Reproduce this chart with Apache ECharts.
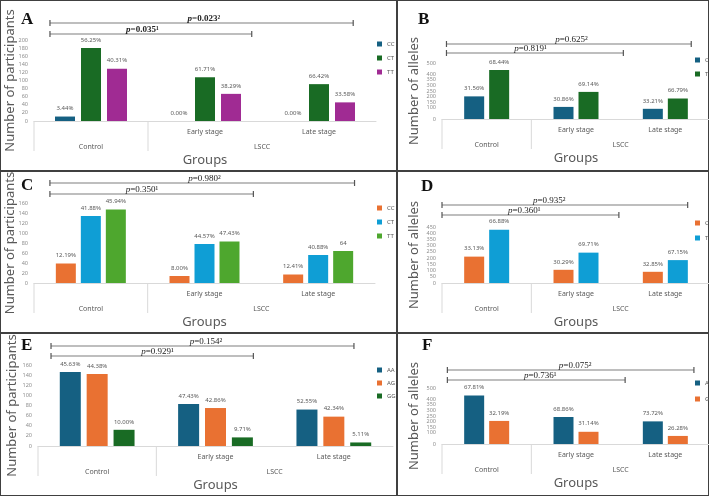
<!DOCTYPE html>
<html>
<head>
<meta charset="utf-8">
<script src="https://cdn.jsdelivr.net/npm/echarts@6/dist/echarts.min.js"></script>
<style>
  html, body { margin: 0; padding: 0; background: #fff; }
  #fig { position: relative; width: 709px; height: 496px; box-sizing: border-box; border: 1px solid #404040; }
  .panel { position: absolute; }
  .rule { position: absolute; background: #404040; }
</style>
</head>
<body>
<div id="fig">
  <div class="panel" id="pA" style="left:0;top:0;width:396px;height:170px"></div>
  <div class="panel" id="pB" style="left:396px;top:0;width:313px;height:170px"></div>
  <div class="panel" id="pC" style="left:0;top:170px;width:396px;height:162px"></div>
  <div class="panel" id="pD" style="left:396px;top:170px;width:313px;height:162px"></div>
  <div class="panel" id="pE" style="left:0;top:332px;width:396px;height:163px"></div>
  <div class="panel" id="pF" style="left:396px;top:332px;width:313px;height:163px"></div>
  <div class="rule" style="left:395px;top:0;width:1.5px;height:496px"></div>
  <div class="rule" style="left:0;top:169px;width:709px;height:1.5px"></div>
  <div class="rule" style="left:0;top:331px;width:709px;height:1.5px"></div>
</div>
<script>
// categories
const groups = ['Control', 'Early stage', 'Late stage'];
const lsccLabel = 'LSCC';

// A - genotypes (participants)
const aCC = [11, 0, 0];
const aCT = [180, 108, 91];
const aTT = [129, 67, 46];
const aCCLbl = ['3.44%', '0.00%', '0.00%'];
const aCTLbl = ['56.25%', '61.71%', '66.42%'];
const aTTLbl = ['40.31%', '38.29%', '33.58%'];
const aP = ['0.035¹', '0.023²'];

// B - alleles
const bC = [202, 108, 91];
const bT = [438, 242, 183];
const bCLbl = ['31.56%', '30.86%', '33.21%'];
const bTLbl = ['68.44%', '69.14%', '66.79%'];
const bP = ['0.819¹', '0.625²'];

// C - genotypes (participants)
const cCC = [39, 14, 17];
const cCT = [134, 78, 56];
const cTT = [147, 83, 64];
const cCCLbl = ['12.19%', '8.00%', '12.41%'];
const cCTLbl = ['41.88%', '44.57%', '40.88%'];
const cTTLbl = ['45.94%', '47.43%', '64'];
const cP = ['0.350¹', '0.980²'];

// D - alleles
const dC = [212, 106, 90];
const dT = [428, 244, 184];
const dCLbl = ['33.13%', '30.29%', '32.85%'];
const dTLbl = ['66.88%', '69.71%', '67.15%'];
const dP = ['0.360¹', '0.935²'];

// E - genotypes (participants)
const eAA = [146, 83, 72];
const eAG = [142, 75, 58];
const eGG = [32, 17, 7];
const eAALbl = ['45.63%', '47.43%', '52.55%'];
const eAGLbl = ['44.38%', '42.86%', '42.34%'];
const eGGLbl = ['10.00%', '9.71%', '5.11%'];
const eP = ['0.929¹', '0.154²'];

// F - alleles
const fA = [434, 241, 202];
const fG = [206, 109, 72];
const fALbl = ['67.81%', '68.86%', '73.72%'];
const fGLbl = ['32.19%', '31.14%', '26.28%'];
const fP = ['0.736¹', '0.075²'];

const NAVY = '#156082', ORANGE = '#E97132', DKGREEN = '#196B24',
      SKY = '#0F9ED5', PURPLE = '#A02B93', GREEN = '#4EA72E';
const GREY = '#595959';
const SANS = '"Noto Sans", sans-serif';
const SERIF = '"Liberation Serif", serif';

function panel(id, cfg) {
  const chart = echarts.init(document.getElementById(id));
  chart.setOption({
    animation: false,
    textStyle: { fontFamily: SANS },
    grid: Object.assign({ containLabel: false, outerBoundsMode: 'none' }, cfg.grid),
    legend: {
      orient: 'vertical',
      left: cfg.legend.left,
      top: cfg.legend.top,
      itemGap: cfg.legend.gap,
      icon: 'rect',
      itemWidth: 5,
      itemHeight: 5,
      padding: 0,
      textStyle: { fontSize: 6, color: GREY, lineHeight: 8 },
      data: cfg.series.map(s => s.name)
    },
    xAxis: {
      type: 'category',
      data: groups,
      name: 'Groups',
      nameLocation: 'middle',
      nameGap: 33,
      nameTextStyle: { fontSize: 13, color: GREY },
      axisLine: { lineStyle: { color: '#d9d9d9' } },
      axisTick: { show: false },
      axisLabel: { fontSize: 7, color: GREY, margin: 7, formatter: (v, i) => (i === 0 ? '' : v) }
    },
    yAxis: {
      type: 'value',
      min: 0,
      max: cfg.max,
      interval: cfg.step,
      name: cfg.yName,
      nameLocation: 'middle',
      nameGap: cfg.nameGap,
      nameMoveOverlap: false,
      nameTextStyle: { fontSize: 13, color: GREY },
      axisLine: { show: false },
      axisTick: { show: false },
      splitLine: { show: false },
      axisLabel: { fontSize: 5.5, color: '#8c8c8c', margin: 6, showMinLabel: true, showMaxLabel: true, hideOverlap: false }
    },
    series: cfg.series.map(s => ({
      type: 'bar',
      name: s.name,
      data: s.data,
      barWidth: cfg.barWidth,
      barGap: cfg.barGap,
      itemStyle: { color: s.color },
      label: {
        show: true,
        position: 'top',
        distance: 5,
        fontSize: 6,
        color: GREY,
        formatter: p => s.labels[p.dataIndex]
      }
    }))
  });

  const x0 = chart.convertToPixel({ xAxisIndex: 0 }, 0);
  const x1 = chart.convertToPixel({ xAxisIndex: 0 }, 1);
  const band = x1 - x0;
  const cx = i => x0 + i * band;
  const y0 = chart.convertToPixel({ yAxisIndex: 0 }, 0);

  const g = [];
  // panel letter
  g.push({
    type: 'text', x: cfg.letterPos[0], y: cfg.letterPos[1],
    style: { text: cfg.letter, font: 'bold 17px ' + SERIF, fill: '#111', verticalAlign: 'middle' }
  });
  // second row of the category axis
  [-0.5, 0.5].forEach(i => {
    g.push({ type: 'line', shape: { x1: cx(i), y1: y0, x2: cx(i), y2: y0 + 30 },
      style: { stroke: '#d9d9d9', lineWidth: 1 } });
  });
  g.push({ type: 'text', x: cx(0), y: y0 + 26,
    style: { text: groups[0], fontSize: 7, fontFamily: SANS, fill: GREY, align: 'center', verticalAlign: 'middle' } });
  g.push({ type: 'text', x: cx(1.5), y: y0 + 26,
    style: { text: lsccLabel, fontSize: 7, fontFamily: SANS, fill: GREY, align: 'center', verticalAlign: 'middle' } });
  // significance brackets
  cfg.brackets.forEach(b => {
    const xa = cx(b.from), xb = cx(b.to);
    g.push({ type: 'line', shape: { x1: xa, y1: b.y, x2: xb, y2: b.y }, style: { stroke: '#7f7f7f', lineWidth: 1.2 } });
    g.push({ type: 'line', shape: { x1: xa, y1: b.y - 3, x2: xa, y2: b.y + 3 }, style: { stroke: '#555', lineWidth: 1.2 } });
    g.push({ type: 'line', shape: { x1: xb, y1: b.y - 3, x2: xb, y2: b.y + 3 }, style: { stroke: '#555', lineWidth: 1.2 } });
    g.push({
      type: 'text', x: cx(b.tx), y: b.y - 4,
      style: {
        text: '{i|p}=' + b.text,
        fontSize: 9, fontFamily: SERIF, fontWeight: cfg.bold ? 'bold' : 'normal', fill: '#222',
        align: 'center', verticalAlign: 'middle',
        rich: { i: { fontStyle: 'italic', fontSize: 9, fontFamily: SERIF, fontWeight: cfg.bold ? 'bold' : 'normal', fill: '#222' } }
      }
    });
  });
  chart.setOption({ graphic: g });
  return chart;
}

panel('pA', {
  letter: 'A', letterPos: [20, 19], bold: true,
  grid: { left: 33, right: 21, top: 39, bottom: 50 },
  max: 200, step: 20, yName: 'Number of participants', nameGap: 17,
  barWidth: 20, barGap: '30%',
  legend: { left: 376, top: 39, gap: 6 },
  series: [
    { name: 'CC', data: aCC, labels: aCCLbl, color: NAVY },
    { name: 'CT', data: aCT, labels: aCTLbl, color: DKGREEN },
    { name: 'TT', data: aTT, labels: aTTLbl, color: PURPLE }
  ],
  brackets: [
    { text: aP[1], from: -0.36, to: 2.30, y: 22, tx: 0.99 },
    { text: aP[0], from: -0.36, to: 1.41, y: 33, tx: 0.45 }
  ]
});

panel('pB', {
  letter: 'B', letterPos: [21, 19],
  grid: { left: 45, right: 0, top: 62, bottom: 52 },
  max: 500, step: 50, yName: 'Number of alleles', nameGap: 21,
  barWidth: 20, barGap: '25%',
  legend: { left: 298, top: 55, gap: 6 },
  series: [
    { name: 'C', data: bC, labels: bCLbl, color: NAVY },
    { name: 'T', data: bT, labels: bTLbl, color: DKGREEN }
  ],
  brackets: [
    { text: bP[1], from: -0.45, to: 2.29, y: 43, tx: 0.95 },
    { text: bP[0], from: -0.45, to: 1.53, y: 52, tx: 0.49 }
  ]
});

panel('pC', {
  letter: 'C', letterPos: [20, 15],
  grid: { left: 33, right: 22, top: 32, bottom: 50 },
  max: 160, step: 20, yName: 'Number of participants', nameGap: 17,
  barWidth: 20, barGap: '25%',
  legend: { left: 376, top: 33, gap: 6 },
  series: [
    { name: 'CC', data: cCC, labels: cCCLbl, color: ORANGE },
    { name: 'CT', data: cCT, labels: cCTLbl, color: SKY },
    { name: 'TT', data: cTT, labels: cTTLbl, color: GREEN }
  ],
  brackets: [
    { text: cP[1], from: -0.36, to: 2.32, y: 12, tx: 1.0 },
    { text: cP[0], from: -0.36, to: 1.43, y: 23, tx: 0.45 }
  ]
});

panel('pD', {
  letter: 'D', letterPos: [24, 16],
  grid: { left: 45, right: 0, top: 56, bottom: 50 },
  max: 450, step: 50, yName: 'Number of alleles', nameGap: 21,
  barWidth: 20, barGap: '25%',
  legend: { left: 298, top: 48, gap: 7 },
  series: [
    { name: 'C', data: dC, labels: dCLbl, color: ORANGE },
    { name: 'T', data: dT, labels: dTLbl, color: SKY }
  ],
  brackets: [
    { text: dP[1], from: -0.5, to: 2.25, y: 34, tx: 0.7 },
    { text: dP[0], from: -0.5, to: 1.48, y: 44, tx: 0.42 }
  ]
});

panel('pE', {
  letter: 'E', letterPos: [20, 13],
  grid: { left: 37, right: 4, top: 32, bottom: 50 },
  max: 160, step: 20, yName: 'Number of participants', nameGap: 19,
  barWidth: 21, barGap: '28%',
  legend: { left: 376, top: 33, gap: 5 },
  series: [
    { name: 'AA', data: eAA, labels: eAALbl, color: NAVY },
    { name: 'AG', data: eAG, labels: eAGLbl, color: ORANGE },
    { name: 'GG', data: eGG, labels: eGGLbl, color: DKGREEN }
  ],
  brackets: [
    { text: eP[1], from: -0.39, to: 2.17, y: 13, tx: 0.92 },
    { text: eP[0], from: -0.39, to: 1.32, y: 23, tx: 0.51 }
  ]
});

panel('pF', {
  letter: 'F', letterPos: [25, 13],
  grid: { left: 45, right: 0, top: 55, bottom: 52 },
  max: 500, step: 50, yName: 'Number of alleles', nameGap: 21,
  barWidth: 20, barGap: '25%',
  legend: { left: 298, top: 46, gap: 8 },
  series: [
    { name: 'A', data: fA, labels: fALbl, color: NAVY },
    { name: 'G', data: fG, labels: fGLbl, color: ORANGE }
  ],
  brackets: [
    { text: fP[1], from: -0.44, to: 2.32, y: 37, tx: 0.99 },
    { text: fP[0], from: -0.44, to: 1.55, y: 47, tx: 0.6 }
  ]
});
</script>
</body>
</html>
